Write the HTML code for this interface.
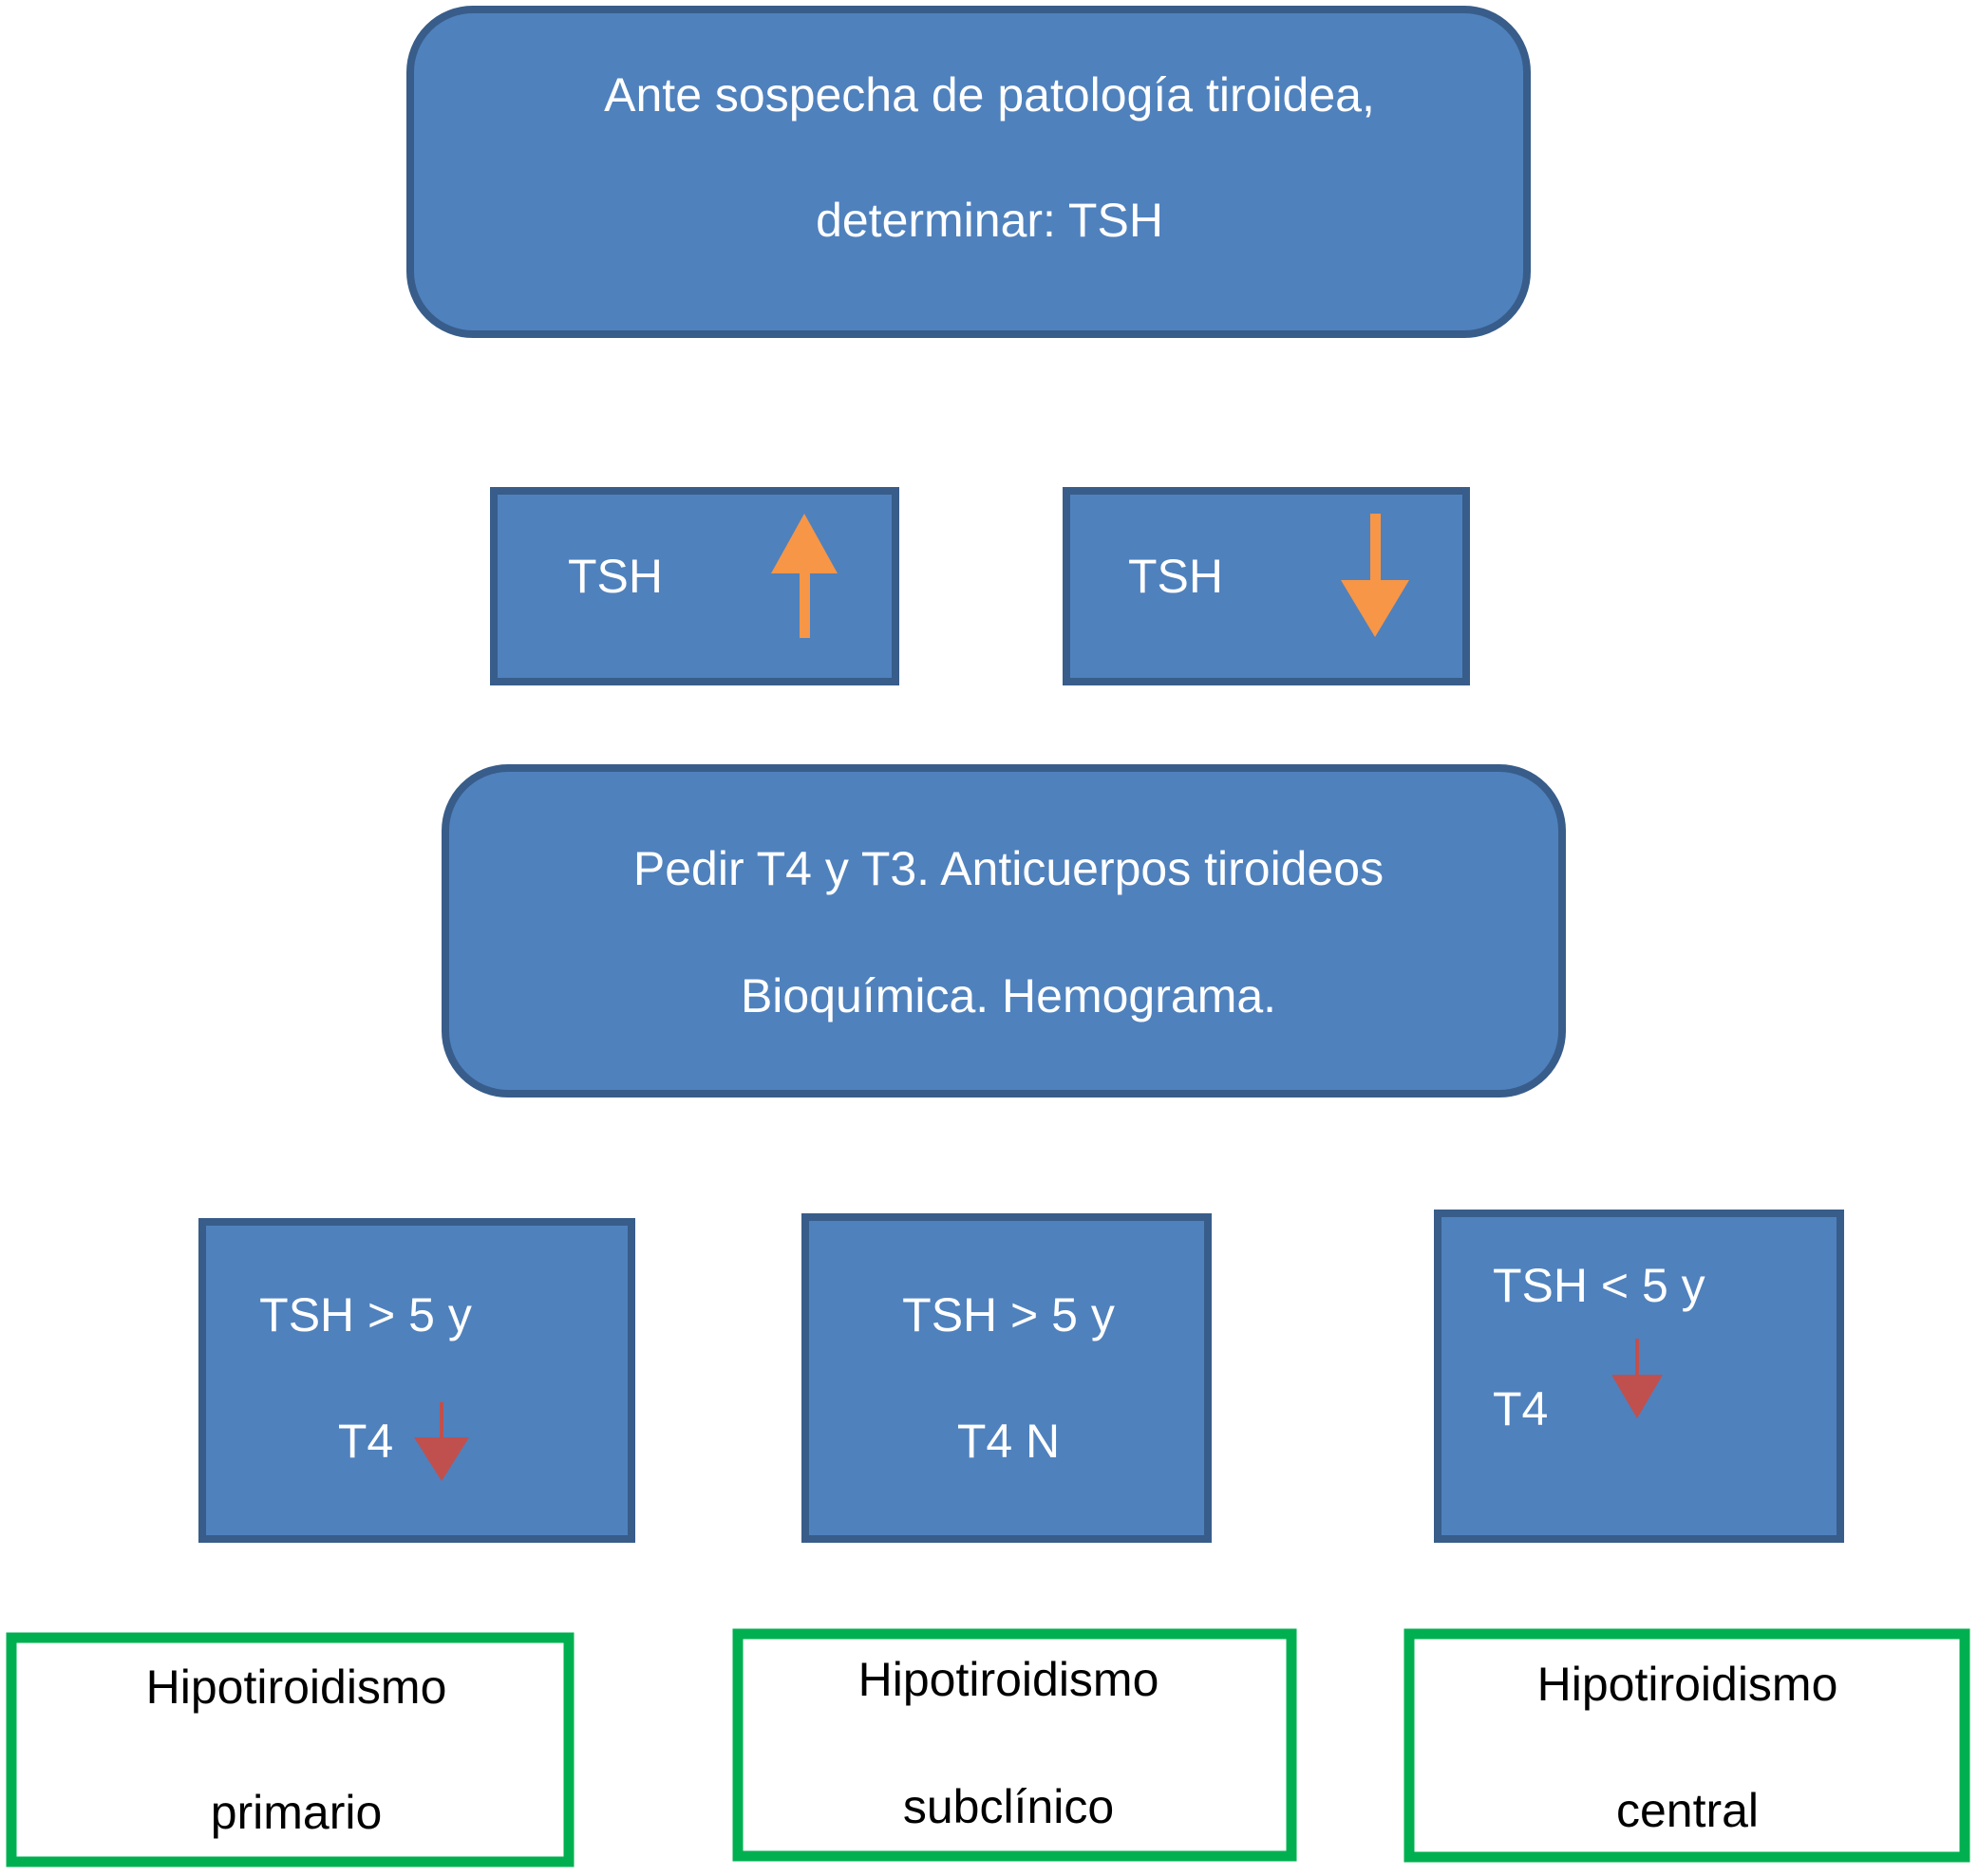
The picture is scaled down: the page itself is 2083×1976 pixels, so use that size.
<!DOCTYPE html>
<html><head><meta charset="utf-8"><style>
html,body{margin:0;padding:0;background:#fff;}
svg{display:block;}
text{font-family:"Liberation Sans",Arial,sans-serif;}
</style></head><body>
<svg width="2083" height="1976" viewBox="0 0 2083 1976" xmlns="http://www.w3.org/2000/svg">
<rect width="2083" height="1976" fill="#fff"/>
<g fill="#4f81bd" stroke="#385d8a" stroke-width="8">
<rect x="432" y="10" width="1176" height="342" rx="66"/>
<rect x="520" y="517" width="423" height="201"/>
<rect x="1123" y="517" width="421" height="201"/>
<rect x="469" y="809" width="1176" height="343" rx="66"/>
<rect x="213" y="1287" width="452" height="334"/>
<rect x="848" y="1282" width="424" height="339"/>
<rect x="1514" y="1278" width="424" height="343"/>
</g>
<g fill="#fff" font-size="50" text-anchor="middle">
<text x="1042" y="117">Ante sospecha de patología tiroidea,</text>
<text x="1042" y="249">determinar: TSH</text>
<text x="1062" y="932">Pedir T4 y T3. Anticuerpos tiroideos</text>
<text x="1062" y="1066">Bioquímica. Hemograma.</text>
<text x="648" y="624">TSH</text>
<text x="1238" y="624">TSH</text>
<text x="385" y="1402">TSH &gt; 5 y</text>
<text x="385" y="1535">T4</text>
<text x="1062" y="1402">TSH &gt; 5 y</text>
<text x="1062" y="1535">T4 N</text>
<text x="1572" y="1371" text-anchor="start">TSH &lt; 5 y</text>
<text x="1572" y="1501" text-anchor="start">T4</text>
</g>
<!-- orange arrows -->
<g fill="#f79646">
<rect x="842" y="600" width="11" height="72"/>
<polygon points="847,541 812,604 882,604"/>
<rect x="1443" y="541" width="11" height="72"/>
<polygon points="1448,671 1412,611 1484,611"/>
</g>
<!-- red arrows -->
<g fill="#c0504d">
<rect x="463" y="1477" width="4" height="40"/>
<polygon points="465,1560 436,1514 494,1514"/>
<rect x="1722" y="1410" width="4" height="40"/>
<polygon points="1724,1494 1697,1448 1751,1448"/>
</g>
<g fill="#fff" stroke="#00b050" stroke-width="11">
<rect x="12" y="1725" width="587" height="236"/>
<rect x="777" y="1721" width="583" height="234"/>
<rect x="1484" y="1721" width="585" height="235"/>
</g>
<g fill="#000" font-size="50" text-anchor="middle">
<text x="312" y="1794">Hipotiroidismo</text>
<text x="312" y="1926">primario</text>
<text x="1062" y="1786">Hipotiroidismo</text>
<text x="1062" y="1920">subclínico</text>
<text x="1777" y="1791">Hipotiroidismo</text>
<text x="1777" y="1924">central</text>
</g>
</svg>
</body></html>
